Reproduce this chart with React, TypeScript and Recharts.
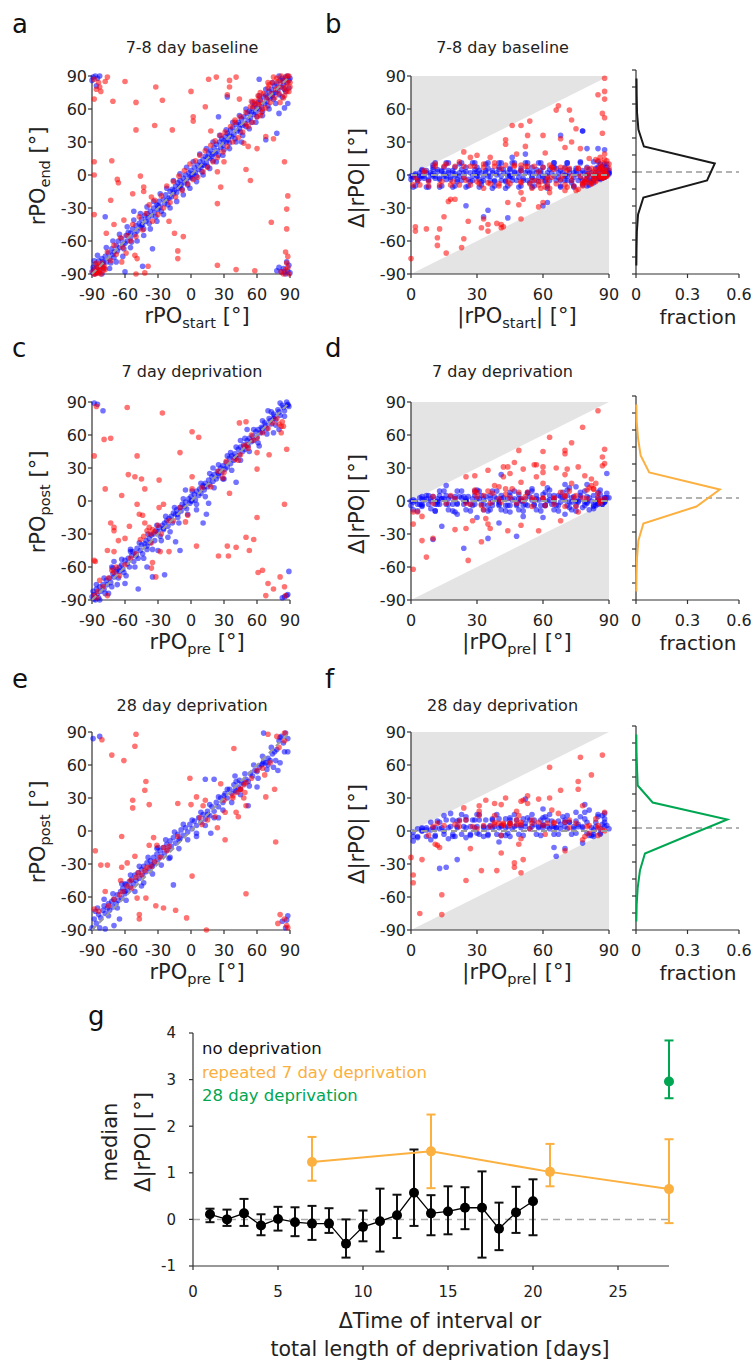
import React from 'react';
import {
  ScatterChart,
  ComposedChart,
  Scatter,
  XAxis,
  YAxis,
  ReferenceLine,
  ReferenceArea,
  ErrorBar,
} from 'recharts';

// ---- rPO start/end pairs, [start, end] in degrees ----
const baselineBlue = [
  [-90, -88], [-89, -84], [-88, -90], [-88, -86], [-87, -81], [-86, -89], [-85, -84], [-84, -78], [-83, -87], [-82, -83],
  [-81, -76], [-80, -81], [-79, -85], [-78, -74], [-77, -79], [-75, -71], [-74, -76], [-73, -80], [-72, -67], [-71, -72],
  [-70, -75], [-68, -64], [-67, -69], [-66, -60], [-65, -66], [-63, -58], [-62, -63], [-61, -67], [-59, -55], [-58, -60],
  [-57, -52], [-55, -57], [-54, -61], [-53, -49], [-51, -54], [-50, -46], [-49, -51], [-47, -44], [-46, -48], [-45, -40],
  [-44, -45], [-43, -49], [-42, -37], [-41, -42], [-40, -35], [-39, -39], [-38, -44], [-37, -33], [-36, -37], [-34, -30],
  [-33, -34], [-32, -38], [-31, -27], [-30, -31], [-29, -24], [-28, -29], [-27, -33], [-25, -22], [-24, -26], [-23, -18],
  [-22, -23], [-21, -27], [-19, -15], [-18, -20], [-17, -13], [-16, -17], [-14, -10], [-13, -16], [-12, -7], [-11, -12],
  [-10, -5], [-9, -9], [-8, -13], [-7, -3], [-6, -7], [-5, 0], [-4, -5], [-3, -9], [-2, 2], [-1, -2],
  [0, 4], [1, -3], [2, 1], [3, 7], [4, 2], [5, -1], [6, 9], [7, 5], [8, 12], [9, 7],
  [10, 3], [11, 14], [12, 9], [13, 17], [14, 11], [15, 8], [16, 20], [17, 15], [18, 22], [19, 17],
  [20, 13], [21, 25], [22, 20], [23, 28], [24, 22], [25, 18], [26, 30], [27, 25], [28, 33], [29, 27],
  [30, 23], [31, 35], [32, 30], [33, 38], [34, 32], [35, 29], [36, 41], [37, 35], [38, 43], [39, 37],
  [40, 33], [41, 46], [42, 40], [43, 48], [44, 42], [45, 39], [46, 51], [47, 45], [48, 53], [49, 47],
  [50, 44], [51, 56], [52, 50], [53, 58], [54, 52], [55, 48], [56, 61], [57, 55], [58, 64], [59, 57],
  [60, 53], [61, 66], [62, 60], [63, 68], [64, 62], [65, 58], [66, 71], [67, 65], [68, 73], [69, 67],
  [70, 63], [71, 76], [72, 70], [73, 78], [74, 72], [75, 69], [76, 81], [77, 75], [78, 83], [79, 77],
  [80, 73], [81, 86], [82, 80], [83, 88], [84, 82], [85, 78], [86, 89], [87, 84], [88, 90], [89, 86], [90, 88],
  [-88, -78], [-85, -73], [-81, -90], [-77, -66], [-74, -85], [-71, -60], [-68, -79], [-65, -54], [-62, -74], [-58, -47],
  [-55, -66], [-52, -41], [-49, -60], [-46, -35], [-43, -55], [-40, -29], [-37, -49], [-34, -24], [-31, -42], [-28, -17],
  [-25, -36], [-22, -12], [-19, -30], [-16, -5], [-13, -24], [-10, 1], [-7, -18], [-4, 7], [-1, -12], [2, 12],
  [5, -6], [8, 19], [11, 0], [14, 24], [17, 6], [20, 30], [23, 12], [26, 36], [29, 18], [32, 41],
  [35, 24], [38, 48], [41, 30], [44, 54], [47, 36], [50, 60], [53, 42], [56, 66], [59, 48], [62, 72],
  [65, 54], [68, 78], [71, 60], [74, 84], [77, 65], [80, 90], [83, 71], [86, 76], [89, 79], [-60, -62],
  [-45, -46], [-30, -28], [-15, -14], [0, -1], [15, 16], [30, 31], [45, 46], [60, 61], [75, 74], [-80, -79],
  [-70, -70], [-20, -21], [20, 19], [70, 71], [55, 57], [-55, -53], [10, 9], [-10, -11], [35, 36], [84, 86],
  [-89, 89], [-87, 90], [-90, 86], [-85, 88], [-86, 81], [-83, 90], [82, -88], [84, -85], [86, -90], [88, -87],
  [89, -82], [80, -84], [87, -79], [90, -89], [78, -87], [85, -88], [85, 61], [80, 56], [88, 65], [78, 38],
  [68, 32], [-35, -67], [-78, -38], [-44, -83], [33, 71], [25, 53], [-60, -88], [62, 87], [46, 30], [-52, -33],
];

const baselineRed = [
  [-88, -90], [-87, -85], [-86, -88], [-85, -82], [-84, -89], [-83, -86], [-82, -90], [-81, -80], [-80, -87], [-79, -83],
  [-76, -70], [-73, -78], [-70, -64], [-68, -72], [-64, -57], [-62, -66], [-58, -55], [-55, -60], [-53, -45], [-50, -56],
  [-47, -38], [-44, -50], [-41, -35], [-38, -27], [-35, -42], [-33, -23], [-30, -36], [-27, -19], [-25, -30], [-22, -10],
  [-19, -25], [-16, -6], [-14, -20], [-11, -1], [-8, -14], [-6, 4], [-3, -8], [-1, 10], [2, -4], [4, 13],
  [6, -2], [8, 18], [11, 3], [13, 22], [15, 7], [18, 27], [20, 12], [22, 31], [24, 16], [27, 36],
  [29, 21], [31, 39], [33, 26], [36, 44], [38, 30], [40, 48], [43, 34], [45, 53], [47, 39], [50, 57],
  [52, 44], [54, 62], [56, 48], [58, 67], [60, 53], [62, 70], [64, 57], [66, 74], [68, 61], [70, 79],
  [72, 66], [74, 84], [76, 70], [78, 88], [80, 74], [82, 90], [84, 79], [86, 87], [88, 84], [89, 90],
  [90, 80], [87, 76], [85, 72], [79, 85], [71, 82], [65, 60], [61, 72], [57, 62], [55, 67], [63, 75],
  [70, 84], [75, 89], [80, 80], [83, 85], [87, 90], [90, 84], [77, 78], [73, 74], [69, 70], [64, 66],
  [62, 64], [86, 80], [89, 76], [84, 70], [81, 66], [-89, -88], [-87, -90], [-85, -87], [-83, -83], [-80, -84],
  [-78, -86], [-86, -80],
  [-76, 89], [-78, 85], [-83, 80], [-86, 78], [-88, 69], [-60, 85], [-71, 67], [-32, 80], [-26, 68], [-50, 66],
  [-33, 45], [-50, 41], [-17, 41], [-88, 12], [-88, 0], [-72, 13], [-67, -4], [-66, -7], [-46, -1], [-43, -11],
  [-43, -15], [-53, -17], [-73, -23], [-88, -36], [-61, -41], [-70, -45], [-77, -53], [-51, -73], [-49, -76], [-63, -79],
  [-50, -90], [-42, -89], [-39, -83], [-59, -71], [-7, -56], [-15, -53], [-12, -69], [-12, -76], [0, 76], [2, 53],
  [2, 49], [13, 62], [16, 87], [23, 89], [35, 86], [35, 80], [33, 73], [41, 89], [44, 69], [40, 50],
  [59, 65], [63, 54], [50, 46], [48, 29], [52, 26], [60, 24], [68, 35], [75, 33], [50, 5], [54, -5],
  [24, 3], [27, -11], [24, -26], [24, -82], [41, -86], [58, -87], [73, -43], [85, 12], [88, -19], [87, -31],
  [87, -49], [86, -70], [88, -74], [87, -80], [84, -90], [86, -86], [88, -84], [82, -88], [89, -90], [-84, 84],
  [-88, 87], [-82, 76], [30, 12], [-36, -20], [18, 40], [-20, -42],
];

const sevenBlue = [
  [-90, -87], [-89, -82], [-88, -85], [-87, -90], [-86, -80], [-85, -84], [-84, -88], [-83, -78], [-82, -82], [-80, -76],
  [-79, -80], [-78, -84], [-77, -72], [-76, -76], [-74, -70], [-73, -74], [-72, -78], [-71, -66], [-70, -69], [-68, -64],
  [-67, -62], [-66, -70], [-65, -60], [-63, -58], [-62, -62], [-61, -65], [-60, -54], [-58, -57], [-57, -52], [-56, -60],
  [-54, -50], [-53, -46], [-52, -55], [-50, -48], [-49, -43], [-48, -52], [-46, -45], [-45, -40], [-44, -48], [-42, -39],
  [-41, -36], [-40, -44], [-38, -34], [-37, -38], [-36, -31], [-34, -30], [-33, -36], [-32, -27], [-30, -28], [-29, -24],
  [-28, -32], [-26, -22], [-25, -26], [-24, -20], [-22, -18], [-21, -23], [-20, -16], [-18, -14], [-17, -20], [-16, -11],
  [-14, -12], [-13, -8], [-12, -15], [-10, -6], [-9, -9], [-8, -3], [-6, -5], [-5, -1], [-4, -7], [-2, 2],
  [-1, -2], [0, 4], [1, 0], [3, 6], [4, 1], [5, 9], [7, 5], [8, 11], [9, 7], [11, 14],
  [12, 10], [13, 16], [15, 13], [16, 19], [17, 15], [19, 22], [20, 18], [21, 24], [23, 20], [24, 27],
  [25, 23], [27, 30], [28, 26], [29, 32], [31, 29], [32, 35], [33, 31], [35, 39], [36, 34], [37, 41],
  [39, 37], [40, 43], [41, 39], [43, 47], [44, 42], [45, 49], [47, 45], [48, 51], [49, 47], [51, 55],
  [52, 50], [53, 57], [55, 54], [56, 59], [57, 55], [59, 63], [60, 58], [61, 65], [63, 62], [64, 67],
  [65, 63], [67, 71], [68, 69], [69, 66], [71, 75], [72, 73], [73, 70], [75, 79], [76, 77], [77, 74],
  [79, 83], [80, 81], [81, 78], [83, 87], [84, 85], [85, 82], [87, 90], [88, 88], [89, 86],
  [-86, -76], [-83, -90], [-79, -70], [-75, -84], [-71, -61], [-67, -76], [-63, -53], [-59, -68], [-55, -46], [-51, -60],
  [-47, -38], [-43, -52], [-39, -30], [-35, -44], [-31, -22], [-27, -36], [-23, -14], [-19, -28], [-15, -6], [-11, -20],
  [-7, 2], [-3, -12], [1, 9], [5, -3], [9, 16], [13, 4], [17, 25], [21, 12], [25, 33], [29, 20],
  [33, 41], [37, 28], [41, 49], [45, 37], [49, 57], [53, 45], [57, 65], [61, 53], [65, 73], [69, 61],
  [73, 81], [77, 69], [81, 89], [85, 77], [-50, -50], [-25, -25], [0, 0], [25, 25], [50, 50], [75, 75],
  [-65, -64], [-40, -41], [-12, -12], [12, 13], [40, 40], [65, 66], [88, 87], [-88, -89],
  [-88, 89], [-85, 88], [-80, 82], [88, -85], [87, -86], [85, -87], [83, -88], [89, -64], [-35, -69], [-24, -67],
  [-48, -80], [-10, -45], [-14, -37], [-21, -33], [16, -2], [14, -12], [11, -20], [36, 44], [41, 17], [51, 65],
  [-60, -75], [-70, -55], [-40, -60], [-55, -44], [45, 55], [30, 20], [-5, 10], [5, -8], [20, 30], [62, 50],
  [70, 82], [-30, -45], [80, 65], [-72, -60], [75, 62],
];

const sevenRed = [
  [-86, 86], [-58, 85], [-26, 80], [-88, 41], [-79, 56], [-73, 57], [-78, 11], [-63, 5], [-57, 24], [-51, 22],
  [-45, 20], [-49, 41], [-42, 11], [-29, 19], [-10, 44], [1, 63], [7, 58], [1, 22], [1, 11], [-25, -3],
  [-29, -6], [-49, -3], [-47, -12], [-73, -20], [-70, -24], [-70, -27], [-56, -23], [-60, -34], [-66, -36], [-76, -45],
  [-70, -46], [-35, -56], [-36, -61], [-32, -69], [-28, -46], [-20, -46], [-16, -18], [-5, -19], [5, -41], [-3, -13],
  [25, -50], [34, -50], [33, -41], [35, 7], [41, -42], [50, -33], [53, -45], [57, -35], [60, -15], [61, -65],
  [65, -63], [68, -86], [70, -75], [75, -80], [81, -69], [85, -78], [86, -86], [85, -3], [87, 47], [44, 71],
  [50, 72], [60, 44], [60, 29], [71, 42], [82, 62], [84, 68], [51, 51], [32, 36], [29, 21], [18, 13],
  [-88, -54], [-87, -55], [-83, -72], [-76, -86],
  [-44, -13], [-40, -27], [-37, -30], [-35, -26], [-43, -32], [-38, -24], [-46, -35], [-42, -20], [-36, -38], [-33, -28],
  [-30, -22], [-27, -30], [-70, -65], [-72, -63], [-65, -68], [-68, -60], [-75, -70], [-80, -78], [-85, -82], [45, 42],
  [43, 37], [48, 50], [55, 60], [56, 55], [80, 70], [78, 75], [82, 68], [83, 72], [60, 57], [52, 48],
  [40, 38], [65, 62], [-50, -48], [-55, -52], [-20, -18], [-10, -6], [10, 12], [25, 27], [30, 26], [-60, -58],
  [70, 66], [74, 71], [-88, -86], [-86, -88],
];

const longBlue = [
  [-90, -88], [-88, -80], [-86, -84], [-84, -76], [-82, -79], [-80, -72], [-79, -68], [-78, -75], [-76, -70], [-75, -66],
  [-74, -72], [-72, -64], [-71, -69], [-70, -62], [-68, -66], [-67, -58], [-66, -63], [-64, -55], [-63, -61], [-62, -52],
  [-60, -57], [-59, -49], [-58, -54], [-56, -46], [-55, -51], [-54, -44], [-52, -48], [-51, -40], [-50, -45], [-48, -38],
  [-47, -43], [-45, -35], [-44, -40], [-43, -32], [-41, -37], [-40, -29], [-38, -34], [-37, -27], [-36, -31], [-34, -24],
  [-33, -29], [-31, -21], [-30, -26], [-28, -18], [-27, -23], [-25, -15], [-24, -20], [-22, -12], [-21, -17], [-19, -9],
  [-18, -14], [-16, -6], [-14, -11], [-12, -3], [-11, -8], [-9, 1], [-7, -4], [-5, 3], [-3, -1], [-1, 6],
  [1, 2], [3, 9], [5, 5], [7, 12], [9, 8], [11, 15], [13, 11], [15, 18], [17, 14], [19, 22],
  [21, 18], [23, 26], [25, 22], [27, 30], [29, 26], [31, 34], [33, 30], [35, 38], [37, 34], [39, 42],
  [41, 36], [43, 40], [44, 46], [45, 38], [46, 44], [48, 43], [50, 47], [52, 45], [54, 52], [56, 50],
  [58, 55], [60, 54], [62, 58], [64, 60], [66, 63], [68, 62], [70, 66], [72, 64], [74, 70], [76, 72],
  [78, 74], [80, 82], [82, 86], [84, 80], [86, 89], [88, 84],
  [-87, -73], [-83, -88], [-79, -62], [-75, -77], [-71, -57], [-67, -70], [-63, -48], [-59, -63], [-55, -40], [-51, -55],
  [-47, -32], [-43, -47], [-39, -24], [-35, -39], [-31, -16], [-27, -31], [-23, -8], [-19, -24], [-15, -1], [-11, -16],
  [-7, 6], [-3, -8], [1, 10], [5, -2], [9, 17], [13, 5], [17, 24], [21, 12], [25, 31], [29, 19],
  [33, 38], [37, 26], [41, 45], [45, 33], [49, 52], [53, 41], [57, 60], [61, 48], [65, 68], [69, 56],
  [73, 76], [77, 64], [81, 85], [85, 72], [-60, -55], [-35, -32], [-10, -7], [15, 15], [40, 37], [65, 61],
  [-89, 84], [-83, 86], [88, -77], [87, -81], [86, -88], [83, -82], [-70, -86], [-78, -89], [-65, -80], [-16, -49],
  [13, 47], [18, -2], [66, 89], [88, 72], [81, 62], [79, 55], [52, 23], [21, 47], [-85, -70], [-60, -48],
  [-30, -15], [5, -5], [30, 32], [40, 50], [70, 60], [75, 58], [-45, -50], [-20, -25], [25, 12], [60, 40],
];

const longRed = [
  [-81, 83], [-50, 88], [-51, 77], [-72, 69], [-61, 64], [-87, -18], [-82, -31], [-76, -31], [-63, -5], [-53, 28],
  [-53, 21], [-41, 45], [-42, 37], [-38, 24], [-34, -6], [-38, -13], [-31, -13], [-51, -23], [-58, -29], [-63, -33],
  [-64, -45], [-54, -52], [-78, -55], [-88, -71], [-84, -73], [-47, -76], [-47, -80], [-49, -61], [-41, -61], [-32, -68],
  [-25, -70], [-14, -72], [-4, -79], [1, -41], [-1, 48], [0, 24], [-12, 25], [5, 31], [13, 28], [11, 23],
  [10, 6], [15, 10], [22, 13], [24, 3], [27, 43], [31, 17], [31, -8], [39, 75], [14, -90], [50, -57],
  [41, 17], [43, 13], [50, 23], [68, 31], [76, 38], [77, -10], [67, 51], [65, 57], [81, -76], [79, -84],
  [87, -86], [85, -80], [88, -88], [70, 88], [78, 86], [85, 89], [49, 35], [45, 38], [38, 32], [48, 30],
  [-45, -40], [-40, -33], [-48, -38], [-36, -32], [-28, -24], [-22, -18], [-20, -14], [-55, -45], [-58, -50], [-62, -55],
  [-70, -62], [-65, -58], [-42, -36], [-33, -28], [-25, -15], [-50, -42], [45, 38], [48, 42], [42, 35], [50, 44],
  [38, 30], [55, 48], [72, 62], [80, 76], [85, 82], [-12, -5], [8, 12], [30, 28], [60, 55], [-75, -68],
];

// ---- histograms of Δ|rPO| (15° bins), fraction of cells ----
const binCenters = [82.5, 67.5, 52.5, 37.5, 22.5, 7.5, -7.5, -22.5, -37.5, -52.5, -67.5, -82.5];
const baselineFraction = [0.003, 0.004, 0.006, 0.014, 0.046, 0.459, 0.414, 0.043, 0.012, 0.005, 0.003, 0.002];
const sevenFraction = [0.002, 0.004, 0.012, 0.027, 0.077, 0.488, 0.352, 0.043, 0.014, 0.006, 0.003, 0.002];
const longFraction = [0.002, 0.003, 0.006, 0.010, 0.097, 0.532, 0.290, 0.052, 0.023, 0.010, 0.004, 0.002];

// ---- panel g: median Δ|rPO| with confidence interval ----
const noDepDays = [1, 2, 3, 4, 5, 6, 7, 8, 9, 10, 11, 12, 13, 14, 15, 16, 17, 18, 19, 20];
const noDepMedian = [0.11, 0.0, 0.13, -0.13, 0.01, -0.06, -0.09, -0.09, -0.52, -0.16, -0.04, 0.09, 0.57, 0.13, 0.17, 0.25, 0.25, -0.2, 0.15, 0.39];
const noDepLow = [-0.06, -0.14, -0.14, -0.34, -0.24, -0.36, -0.44, -0.29, -0.82, -0.47, -0.69, -0.4, -0.14, -0.34, -0.32, -0.21, -0.82, -0.66, -0.29, -0.34];
const noDepHigh = [0.23, 0.21, 0.44, 0.11, 0.27, 0.26, 0.29, 0.24, 0.0, 0.19, 0.66, 0.53, 1.5, 0.52, 0.71, 0.69, 1.03, 0.36, 0.7, 0.86];

const repDays = [7, 14, 21, 28];
const repMedian = [1.23, 1.46, 1.02, 0.65];
const repLow = [0.83, 0.67, 0.71, -0.08];
const repHigh = [1.77, 2.25, 1.62, 1.72];

const longDays = [28];
const longMedian = [2.96];
const longLow = [2.6];
const longHigh = [3.84];

const FONT = '"DejaVu Sans", Verdana, sans-serif';
const INK = '#222';
const AX = '#333';
const ORANGE = '#fbb040';
const GREEN = '#00a651';
const S = 198;
const deg = [-90, -60, -30, 0, 30, 60, 90];
const half = [0, 30, 60, 90];
const binTicks = [-90, -75, -60, -45, -30, -15, 0, 15, 30, 45, 60, 75, 90];
const diagonal = [{ x: -90, y: -90 }, { x: 90, y: 90 }];
const zeroLine = [{ x: 0, y: 0 }, { x: 90, y: 0 }];

const toPts = (arr: number[][]) => arr.map(([x, y]) => ({ x, y }));
const toDelta = (arr: number[][]) => arr.map(([s, e]) => ({ x: Math.abs(s), y: Math.abs(s) - Math.abs(e) }));
const withErr = (xs: number[], m: number[], lo: number[], hi: number[]) =>
  xs.map((x, i) => ({ x, y: m[i], err: [m[i] - lo[i], hi[i] - m[i]] }));

const dot = (fill: string) => (p: any) => <circle cx={p.cx} cy={p.cy} r={2.8} fill={fill} fillOpacity={0.55} />;
const bigDot = (fill: string) => (p: any) => <circle cx={p.cx} cy={p.cy} r={5} fill={fill} />;
const noDot = () => <g />;
const dashed = { stroke: '#9a9a9a', strokeWidth: 2, strokeDasharray: '6 4' };

const upperWedge = (p: any) => (
  <path d={`M${p.x},${p.y + p.height}L${p.x},${p.y}L${p.x + p.width},${p.y}Z`} fill="#e4e4e4" />
);
const lowerWedge = (p: any) => (
  <path d={`M${p.x},${p.y + p.height}L${p.x + p.width},${p.y + p.height}L${p.x + p.width},${p.y}Z`} fill="#e4e4e4" />
);

const tickStyle = { fontSize: 16, fill: INK, fontFamily: FONT };
const YW = 70;
const XH = 62;
const PAD = 8;
const RPAD = 16;

const axisProps = {
  type: 'number' as const,
  interval: 0 as const,
  tickSize: 4,
  axisLine: { stroke: AX, strokeWidth: 1.2 },
  tickLine: { stroke: AX, strokeWidth: 1.2 },
  tick: tickStyle,
};

function PoPanel({ left, top, blue, red }: { left: number; top: number; blue: number[][]; red: number[][] }) {
  return (
    <div style={{ position: 'absolute', left: left - YW, top: top - PAD }}>
      <ScatterChart width={YW + S + RPAD} height={PAD + S + XH} margin={{ top: PAD, right: RPAD, left: 0, bottom: 0 }}>
        <XAxis {...axisProps} dataKey="x" domain={[-90, 90]} ticks={deg} height={XH} tickMargin={11} />
        <YAxis {...axisProps} dataKey="y" domain={[-90, 90]} ticks={deg} width={YW} tickMargin={1} />
        <Scatter data={toPts(blue)} shape={dot('#0000ff')} isAnimationActive={false} />
        <Scatter data={toPts(red)} shape={dot('#ff0000')} isAnimationActive={false} />
        <Scatter data={diagonal} shape={noDot} line={dashed} isAnimationActive={false} />
      </ScatterChart>
    </div>
  );
}

function DeltaPanel({ left, top, blue, red }: { left: number; top: number; blue: number[][]; red: number[][] }) {
  return (
    <div style={{ position: 'absolute', left: left - YW, top: top - PAD }}>
      <ScatterChart width={YW + S + RPAD} height={PAD + S + XH} margin={{ top: PAD, right: RPAD, left: 0, bottom: 0 }}>
        <ReferenceArea x1={0} x2={90} y1={0} y2={90} shape={upperWedge} />
        <ReferenceArea x1={0} x2={90} y1={-90} y2={0} shape={lowerWedge} />
        <XAxis {...axisProps} dataKey="x" domain={[0, 90]} ticks={half} height={XH} tickMargin={11} />
        <YAxis {...axisProps} dataKey="y" domain={[-90, 90]} ticks={deg} width={YW} tickMargin={1} />
        <Scatter data={toDelta(blue)} shape={dot('#0000ff')} isAnimationActive={false} />
        <Scatter data={toDelta(red)} shape={dot('#ff0000')} isAnimationActive={false} />
        <Scatter data={zeroLine} shape={noDot} line={dashed} isAnimationActive={false} />
      </ScatterChart>
    </div>
  );
}

function FractionPanel({ top, frac, color }: { top: number; frac: number[]; color: string }) {
  const data = binCenters.map((d, i) => ({ x: frac[i], y: d }));
  const plotTop = top - 6;
  return (
    <div style={{ position: 'absolute', left: 636 - 10, top: plotTop - 4 }}>
      <ScatterChart width={10 + 103 + 17} height={4 + S + 6 + XH} margin={{ top: 4, right: 17, left: 0, bottom: 0 }}>
        <XAxis {...axisProps} dataKey="x" domain={[0, 0.6]} ticks={[0, 0.3, 0.6]} height={XH} tickMargin={11} />
        <YAxis {...axisProps} dataKey="y" domain={[-90, 90]} ticks={binTicks} width={10} tickFormatter={() => ''} />
        <ReferenceLine y={0} stroke="#999" strokeWidth={1.5} strokeDasharray="6 4" />
        <Scatter data={data} shape={noDot} line={{ stroke: color, strokeWidth: 2 }} isAnimationActive={false} />
      </ScatterChart>
    </div>
  );
}

function MedianPanel() {
  const gTick = { fontSize: 15, fill: INK, fontFamily: FONT };
  return (
    <div style={{ position: 'absolute', left: 193 - 100, top: 1033 - 12 }}>
      <ComposedChart width={100 + 476 + 30} height={12 + 233 + 95} margin={{ top: 12, right: 30, left: 0, bottom: 0 }}>
        <XAxis {...axisProps} dataKey="x" domain={[0, 28]} ticks={[0, 5, 10, 15, 20, 25]} height={95} tickMargin={16} tick={gTick} />
        <YAxis {...axisProps} dataKey="y" domain={[-1, 4]} ticks={[-1, 0, 1, 2, 3, 4]} width={100} tickMargin={13} tick={gTick} />
        <ReferenceLine y={0} stroke="#aaa" strokeWidth={1.5} strokeDasharray="7 5" />
        <Scatter data={withErr(repDays, repMedian, repLow, repHigh)} shape={bigDot(ORANGE)} line={{ stroke: ORANGE, strokeWidth: 2 }} isAnimationActive={false}>
          <ErrorBar dataKey="err" direction="y" width={4.5} stroke={ORANGE} strokeWidth={2} />
        </Scatter>
        <Scatter data={withErr(noDepDays, noDepMedian, noDepLow, noDepHigh)} shape={bigDot('#000')} line={{ stroke: '#000', strokeWidth: 1.3 }} isAnimationActive={false}>
          <ErrorBar dataKey="err" direction="y" width={4.5} stroke="#111" strokeWidth={2} />
        </Scatter>
        <Scatter data={withErr(longDays, longMedian, longLow, longHigh)} shape={bigDot(GREEN)} isAnimationActive={false}>
          <ErrorBar dataKey="err" direction="y" width={4.5} stroke={GREEN} strokeWidth={2} />
        </Scatter>
      </ComposedChart>
    </div>
  );
}

function SubLabel({ x, y, head, sub, tail, vertical }: { x: number; y: number; head: string; sub?: string; tail: string; vertical?: boolean }) {
  return (
    <text x={x} y={y} textAnchor="middle" fontSize={21} fill={INK} transform={vertical ? `rotate(-90 ${x} ${y})` : undefined}>
      {head}
      {sub && <tspan fontSize={14.5} dy={5}>{sub}</tspan>}
      <tspan dy={sub ? -5 : 0}>{tail}</tspan>
    </text>
  );
}

const rows = [
  { top: 76, letterY: 33, titleY: 52.7, title: '7-8 day baseline', pre: 'start', post: 'end', letters: ['a', 'b'], blue: baselineBlue, red: baselineRed, frac: baselineFraction, color: '#1a1a1a' },
  { top: 402, letterY: 357, titleY: 377.3, title: '7 day deprivation', pre: 'pre', post: 'post', letters: ['c', 'd'], blue: sevenBlue, red: sevenRed, frac: sevenFraction, color: ORANGE },
  { top: 732, letterY: 688, titleY: 710.7, title: '28 day deprivation', pre: 'pre', post: 'post', letters: ['e', 'f'], blue: longBlue, red: longRed, frac: longFraction, color: GREEN },
];

export default function App() {
  return (
    <div style={{ position: 'absolute', left: 0, top: 0, width: 756, height: 1363, background: '#fff', fontFamily: FONT }}>
      <svg width={756} height={1363} style={{ position: 'absolute', left: 0, top: 0 }} fontFamily={FONT}>
        {rows.map((r) => {
          const bottom = r.top + S;
          const mid = r.top + 100;
          return (
            <g key={r.title}>
              <text x={12} y={r.letterY} fontSize={26} fill="#111">{r.letters[0]}</text>
              <text x={325} y={r.letterY} fontSize={26} fill="#111">{r.letters[1]}</text>
              <text x={192} y={r.titleY} fontSize={16} fill={INK} textAnchor="middle">{r.title}</text>
              <text x={502.5} y={r.titleY} fontSize={16} fill={INK} textAnchor="middle">{r.title}</text>
              <SubLabel x={45} y={mid} head="rPO" sub={r.post} tail=" [°]" vertical />
              <SubLabel x={197} y={bottom + 49} head="rPO" sub={r.pre} tail=" [°]" />
              <SubLabel x={364} y={mid + 2} head="Δ|rPO| [°]" tail="" vertical />
              <SubLabel x={517} y={bottom + 49} head="|rPO" sub={r.pre} tail="| [°]" />
              <text x={698} y={bottom + 50} fontSize={20} fill={INK} textAnchor="middle">fraction</text>
            </g>
          );
        })}
        <text x={88} y={1025} fontSize={26} fill="#111">g</text>
        <text x={117} y={1142} fontSize={21} fill={INK} textAnchor="middle" transform="rotate(-90 117 1142)">median</text>
        <text x={150} y={1142} fontSize={21} fill={INK} textAnchor="middle" transform="rotate(-90 150 1142)">Δ|rPO| [°]</text>
        <text x={440} y={1327.5} fontSize={20.5} fill={INK} textAnchor="middle">ΔTime of interval or</text>
        <text x={440} y={1355.5} fontSize={20.5} fill={INK} textAnchor="middle">total length of deprivation [days]</text>
        <text x={202} y={1054.3} fontSize={16.5} fill="#111">no deprivation</text>
        <text x={202} y={1077.7} fontSize={16.5} fill={ORANGE}>repeated 7 day deprivation</text>
        <text x={202} y={1100.7} fontSize={16.5} fill={GREEN}>28 day deprivation</text>
      </svg>
      {rows.map((r) => (
        <React.Fragment key={r.title}>
          <PoPanel left={92} top={r.top} blue={r.blue} red={r.red} />
          <DeltaPanel left={411} top={r.top} blue={r.blue} red={r.red} />
          <FractionPanel top={r.top} frac={r.frac} color={r.color} />
        </React.Fragment>
      ))}
      <MedianPanel />
    </div>
  );
}
